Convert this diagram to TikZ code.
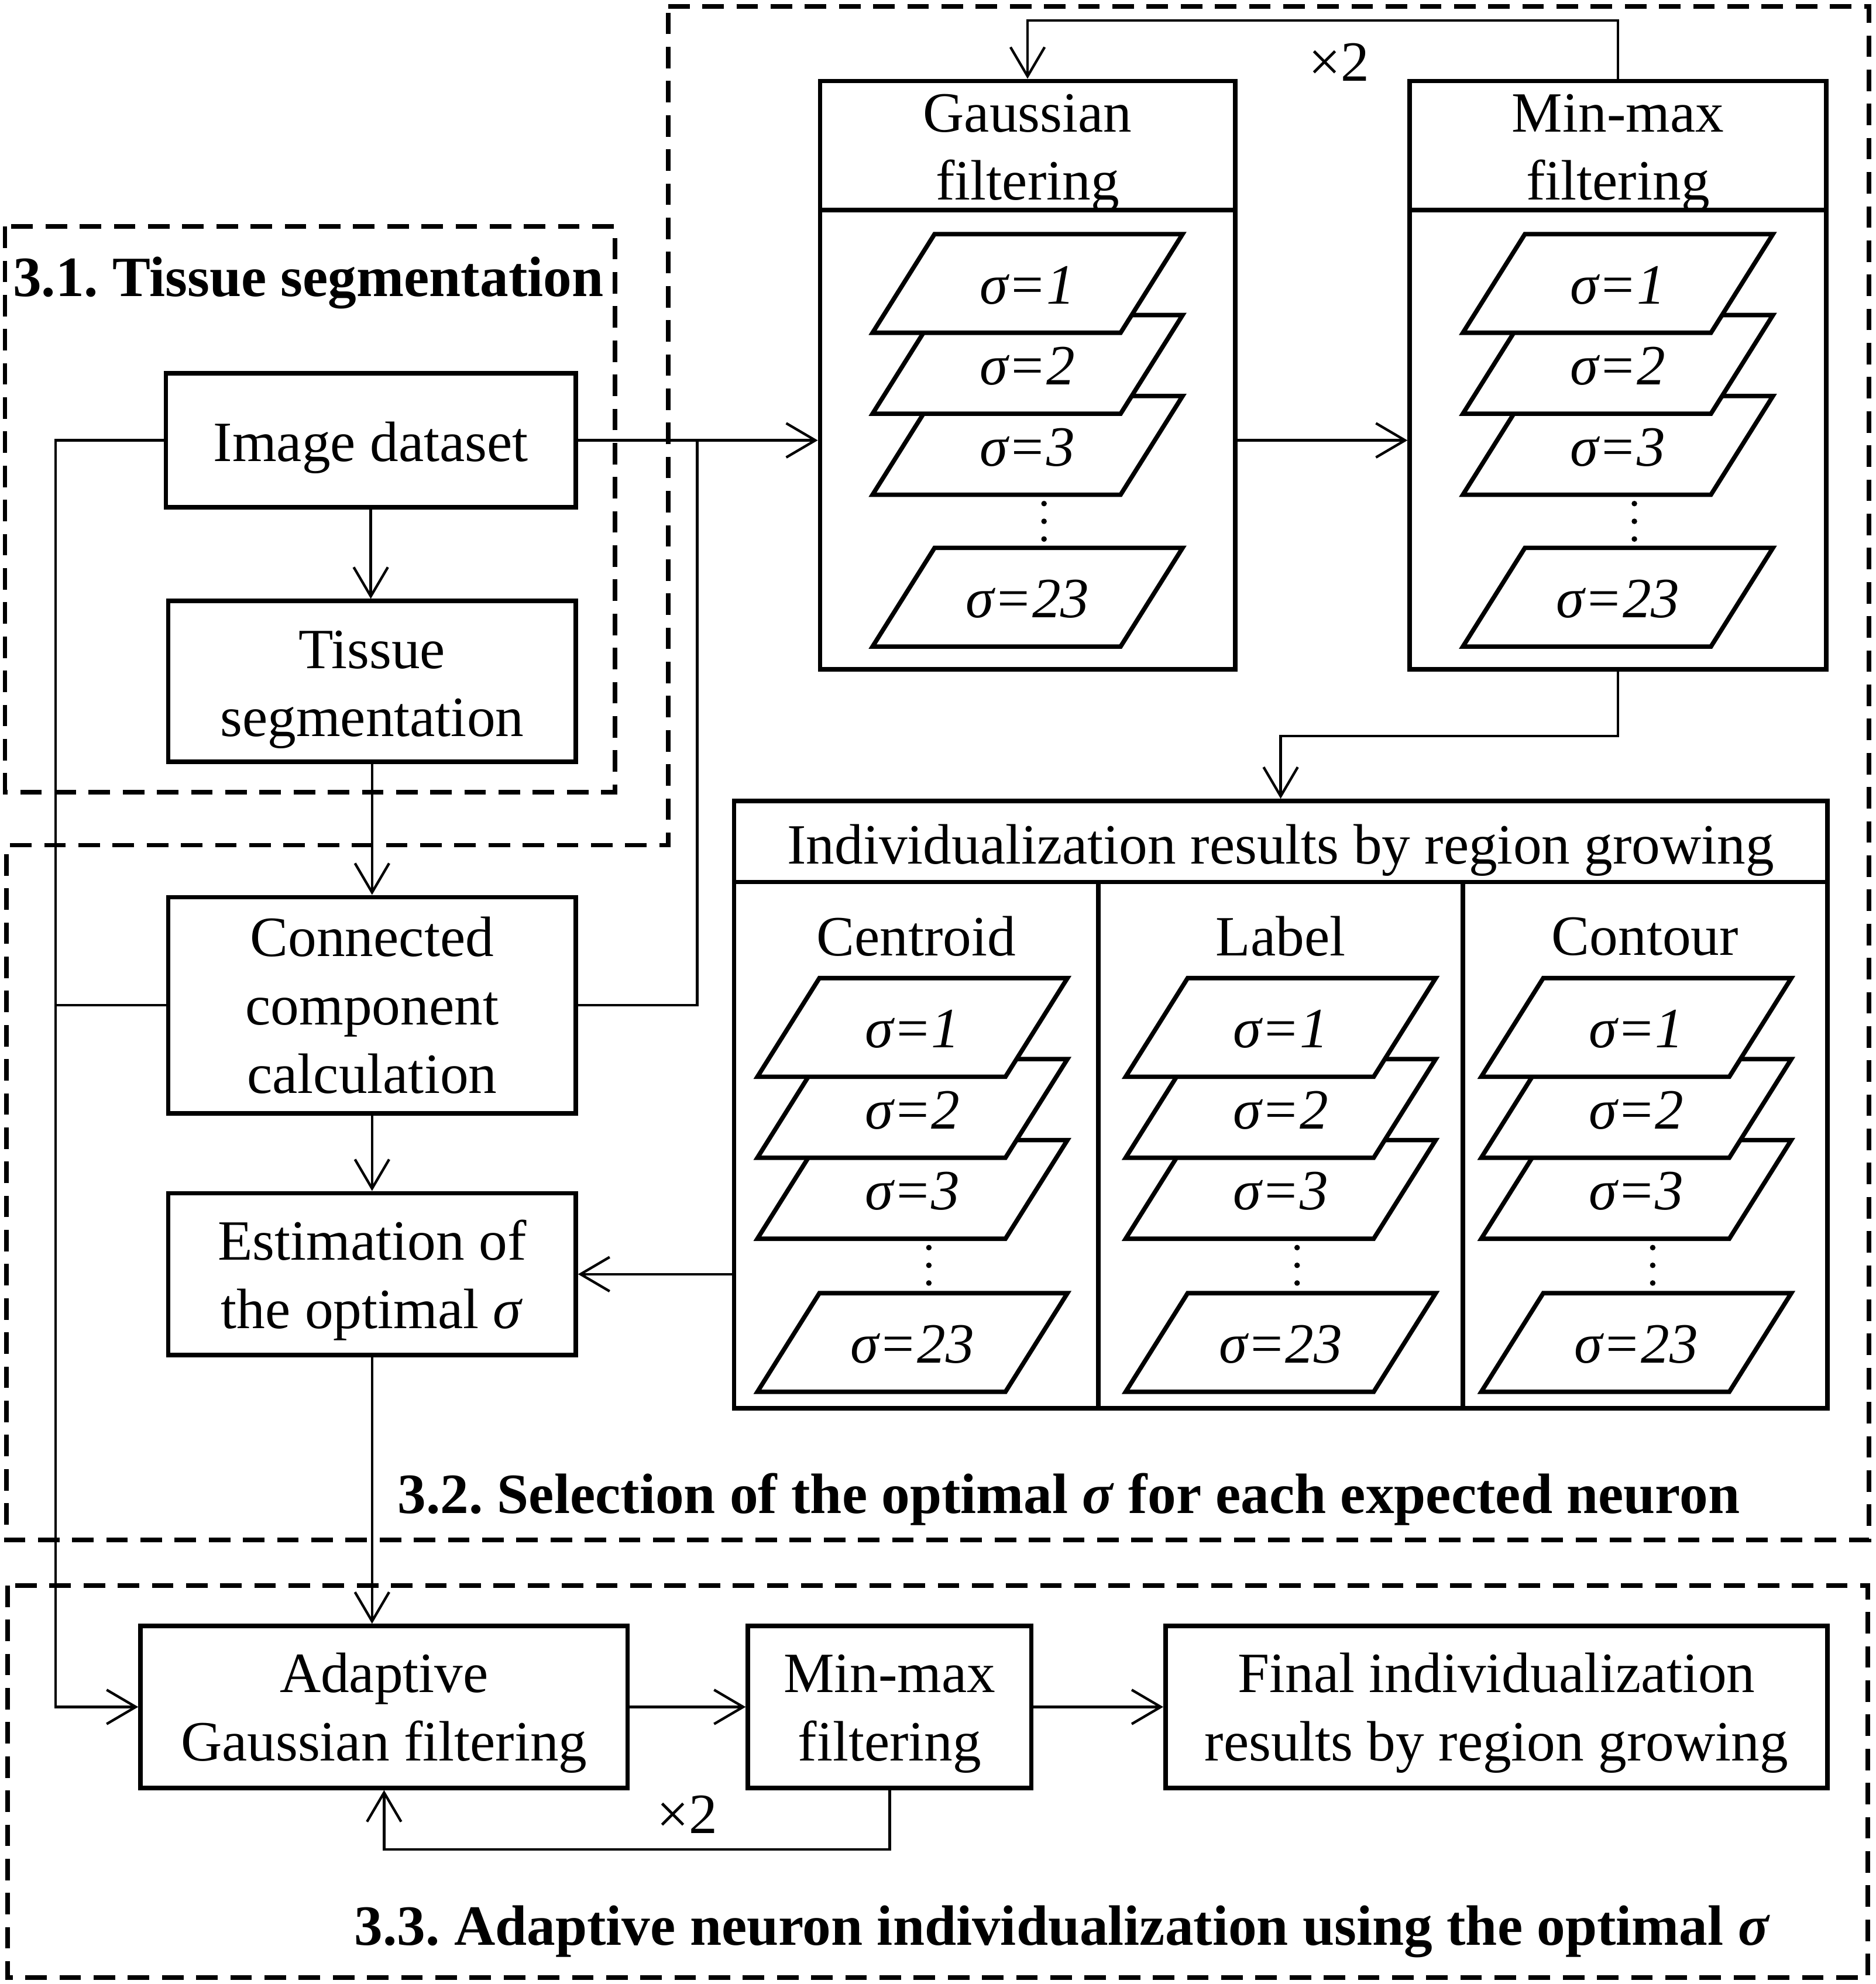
\documentclass[tikz,border=0pt]{standalone}
\usepackage{fontspec}
\setmainfont{Liberation Serif}
\usetikzlibrary{arrows.meta}
\frenchspacing
\newcommand{\tstrut}[1]{\rule{0pt}{#1}}
\newcommand{\sigpara}[4]{%
  \filldraw[para] ({#2-73.5},{#3-39}) -- ({#2+122.5},{#3-39}) -- ({#2+73.5},{#3+39}) -- ({#2-122.5},{#3+39}) -- cycle;
  \node[plabel] (#1) at (#2,{#3+1.5}) {σ=#4};}
\newcommand{\sigstack}[4]{%
  \sigpara{#1s23}{#2}{#4}{23}
  \sigpara{#1s3}{#2}{#3+128}{3}
  \sigpara{#1s2}{#2}{#3+64}{2}
  \sigpara{#1s1}{#2}{#3}{1}
  \fill ({#2+13},{#3+128+46}) circle (2.2pt);
  \fill ({#2+13},{#3+128+60}) circle (2.2pt);
  \fill ({#2+13},{#3+128+74}) circle (2.2pt);}
\begin{document}
\begin{tikzpicture}[x=1pt,y=-1pt,
  every node/.style={font=\fontsize{45}{54}\selectfont, inner sep=0pt},
  box/.style={draw, line width=3.5pt, align=center, rectangle},
  conn/.style={line width=2pt},
  arr/.style={conn, -{Straight Barb[length=23pt,width=27pt]}},
  region/.style={line width=3.5pt, dash pattern=on 17pt off 10pt},
  para/.style={line width=3.5pt, fill=white, line join=miter},
  plabel/.style={font=\fontsize{45}{54}\selectfont\itshape},
  sectitle/.style={font=\fontsize{45}{54}\selectfont\bfseries, anchor=base west}
]
\useasboundingbox (0,0) rectangle (1482,1568);

% ---- dashed regions
\draw[region] (4,179) rectangle (486,626);
\draw[region] (528,5) -- (1477,5) -- (1477,1217) -- (5,1217) -- (5,668) -- (528,668) -- cycle;
\draw[region] (6,1253) rectangle (1476,1563);

\node[sectitle] (t31) at (10,234) {3.1. Tissue segmentation};
\node[sectitle] (t32) at (314,1196) {3.2. Selection of the optimal \textit{σ} for each expected neuron};
\node[sectitle] (t33) at (280,1537) {3.3. Adaptive neuron individualization using the optimal \textit{σ}};

% ---- left column boxes
\node[box, minimum width=324pt, minimum height=106pt] (img) at (293,348) {\tstrut{43pt}Image dataset};
\node[box, minimum width=322pt, minimum height=127pt] (tis) at (294,538.5) {\tstrut{43pt}Tissue\\segmentation};
\node[box, minimum width=322pt, minimum height=171pt] (cc) at (294,794.5) {Connected\\component\\calculation};
\node[box, minimum width=322pt, minimum height=128pt] (est) at (294,1007) {\tstrut{41pt}Estimation of\\the optimal \textit{σ}};

% ---- Gaussian filtering group
\node[box, minimum width=328pt, minimum height=465pt] (gbox) at (812,296.5) {};
\draw[line width=3.5pt] (648,166) -- (976,166);
\node[align=center] (gtitle) at (812,121) {Gaussian\\filtering};
\sigstack{g}{812}{224}{472}

% ---- Min-max filtering group
\node[box, minimum width=329pt, minimum height=465pt] (mbox) at (1278.5,296.5) {};
\draw[line width=3.5pt] (1114,166) -- (1443,166);
\node[align=center] (mtitle) at (1278.5,121) {Min-max\\filtering};
\sigstack{m}{1278.5}{224}{472}

% ---- results group
\node[box, minimum width=864pt, minimum height=480pt] (rbox) at (1012,873) {};
\draw[line width=3.5pt] (580,697) -- (1444,697);
\draw[line width=3.5pt] (868,697) -- (868,1113);
\draw[line width=3.5pt] (1156,697) -- (1156,1113);
\node (rtitle) at (1012,672) {Individualization results by region growing};
\node (ctitle) at (724,740) {Centroid};
\node (ltitle) at (1012,740) {Label};
\node (otitle) at (1300,740) {Contour};
\sigstack{c}{721}{812}{1061}
\sigstack{l}{1012}{812}{1061}
\sigstack{o}{1293}{812}{1061}

% ---- bottom row
\node[box, minimum width=385pt, minimum height=128pt] (adapt) at (303.5,1349) {\tstrut{41pt}Adaptive\\Gaussian filtering};
\node[box, minimum width=224pt, minimum height=128pt] (mm2) at (703,1349) {\tstrut{41pt}Min-max\\filtering};
\node[box, minimum width=523pt, minimum height=128pt] (final) at (1182.5,1349) {\tstrut{41pt}Final individualization\\results by region growing};

% ---- connectors
\coordinate (jn) at (551,348);
\coordinate (lt) at (44,348);
\draw[arr] (img.east) -- (img.east -| gbox.west);
\draw[conn] (cc.east) -| (jn);
\draw[arr] (img.west) -- (lt) |- (adapt.west);
\draw[conn] (cc.west) -- (cc.west -| lt);
\draw[arr] (img.south) -- (img.south |- tis.north);
\draw[arr] (tis.south) -- (cc.north);
\draw[arr] (cc.south) -- (est.north);
\draw[arr] (img.east -| gbox.east) -- (img.east -| mbox.west);
\draw[arr] (mbox.north) -- ++(0,-46) -| (gbox.north);
\node (x2a) at (1058,49) {×2};
\draw[arr] (mbox.south) -- ++(0,51) -| (rbox.north);
\draw[arr] (rbox.west |- est.east) -- (est.east);
\draw[arr] (est.south) -- (est.south |- adapt.north);
\draw[arr] (adapt.east) -- (mm2.west);
\draw[arr] (mm2.east) -- (final.west);
\draw[arr] (mm2.south) -- ++(0,47) -| (adapt.south);
\node (x2b) at (543,1434) {×2};
\end{tikzpicture}
\end{document}
